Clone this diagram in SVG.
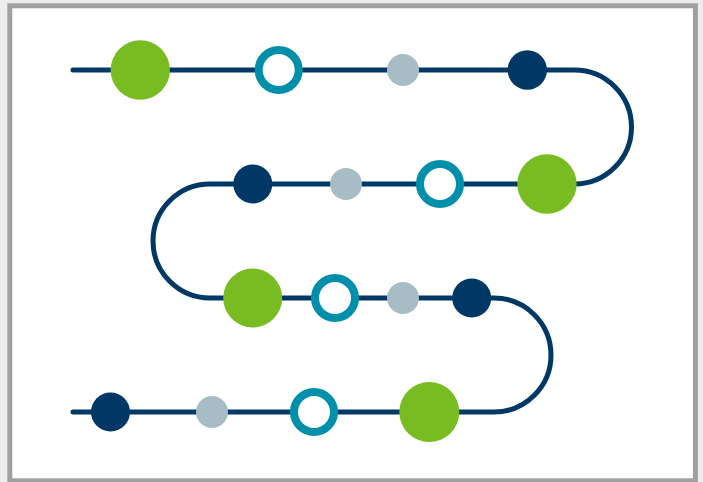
<svg xmlns="http://www.w3.org/2000/svg" width="703" height="482" viewBox="0 0 703 482">
<style>
.bg{fill:#ededeb}
.frame{fill:#ffffff;stroke:#a0a0a0;stroke-width:5}
.track{fill:none;stroke:#003865;stroke-width:5;stroke-linecap:round}
.green{fill:#78bc21}
.navy{fill:#003865}
.gray{fill:#a7bcc4}
.ring{fill:#ffffff;stroke:#008fab;stroke-width:8}
</style>
<rect class="bg" x="0" y="0" width="703" height="482"/>
<rect class="frame" x="9.8" y="5.8" width="685.6" height="475"/>
<g id="connectors">
<path class="track" d="M73 70 H574.5 A57 57 0 0 1 574.5 184 H210 A57 57 0 0 0 210 298 H494 A57 57 0 0 1 494 412 H73"/>
</g>
<g id="row1">
<circle id="n1" class="green" cx="140.3" cy="70" r="29.7"/>
<circle id="n2" class="ring" cx="278.7" cy="70" r="20"/>
<circle id="n3" class="gray" cx="403" cy="70" r="16"/>
<circle id="n4" class="navy" cx="527.3" cy="70" r="19.7"/>
</g>
<g id="row2">
<circle id="n5" class="green" cx="547" cy="184" r="29.7"/>
<circle id="n6" class="ring" cx="440" cy="184" r="20"/>
<circle id="n7" class="gray" cx="346" cy="184" r="16"/>
<circle id="n8" class="navy" cx="252.8" cy="184" r="19.5"/>
</g>
<g id="row3">
<circle id="n9" class="green" cx="252.7" cy="298" r="29.5"/>
<circle id="n10" class="ring" cx="335" cy="298" r="20"/>
<circle id="n11" class="gray" cx="403" cy="298" r="16"/>
<circle id="n12" class="navy" cx="471.7" cy="298" r="19.5"/>
</g>
<g id="row4">
<circle id="n13" class="navy" cx="110.5" cy="412" r="19.5"/>
<circle id="n14" class="gray" cx="212" cy="412" r="16"/>
<circle id="n15" class="ring" cx="314" cy="412" r="20"/>
<circle id="n16" class="green" cx="429.3" cy="412" r="30"/>
</g>
</svg>
